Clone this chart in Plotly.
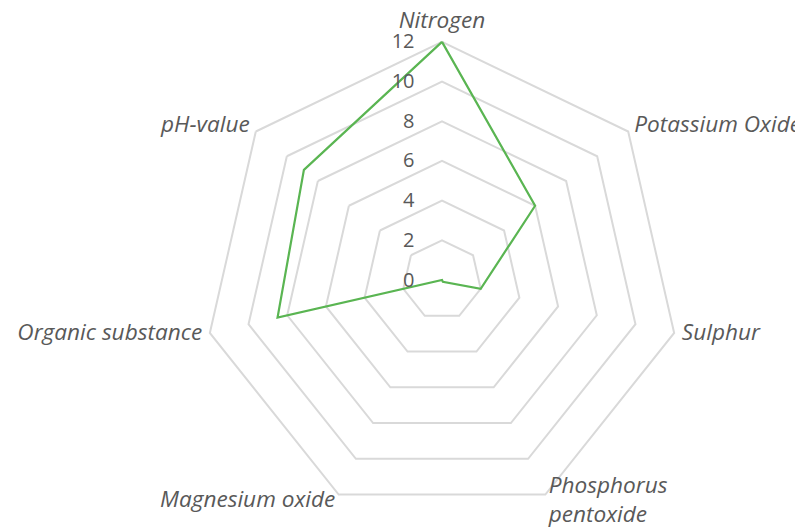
import plotly.graph_objects as go

categories = ["Nitrogen", "Potassium Oxide", "Sulphur", "Phosphorus<br>pentoxide",
              "Magnesium oxide", "Organic substance", "pH-value"]
values = [12, 6, 2, 0.1, 0, 8.5, 8.9]
tick_vals = [0, 2, 4, 6, 8, 10, 12]
tick_text = ["0", "2", "4", "6", "8", "10", "12"]

R_MAX = 12
LABEL_R = R_MAX * 1.033  # category labels sit just outside the outer ring
label_pos = ["top center", "middle right", "middle right", "middle right",
             "middle left", "middle left", "middle left"]

fig = go.Figure()
fig.add_trace(go.Scatterpolar(
    r=values + values[:1],
    theta=categories + categories[:1],
    mode="lines",
    line=dict(color="#5ab552", width=2.2),
    showlegend=False,
    hoverinfo="skip",
))
fig.add_trace(go.Scatterpolar(
    r=[LABEL_R] * len(categories),
    theta=categories,
    mode="text",
    text=categories,
    textposition=label_pos,
    textfont=dict(family="Open Sans", size=22.6, color="#595959", style="italic"),
    cliponaxis=False,
    showlegend=False,
    hoverinfo="skip",
))

grid = "#d9d9d9"
fig.update_layout(
    width=803, height=532,
    margin=dict(l=188, r=123, t=26, b=14),
    paper_bgcolor="white",
    plot_bgcolor="white",
    font=dict(family="Open Sans", color="#595959"),
    polar=dict(
        bgcolor="white",
        gridshape="linear",
        domain=dict(x=[0, 1], y=[0, 1]),
        radialaxis=dict(
            range=[0, LABEL_R],
            tickvals=tick_vals,
            ticktext=tick_text,
            angle=90,
            tickangle=90,
            side="counterclockwise",
            showline=False,
            ticks="outside",
            ticklen=20,
            tickcolor="rgba(0,0,0,0)",
            gridcolor=grid,
            gridwidth=1.5,
            tickfont=dict(family="Open Sans", size=20, color="#595959"),
        ),
        angularaxis=dict(
            rotation=90,
            direction="clockwise",
            showgrid=False,
            showline=False,
            ticks="",
            showticklabels=False,
        ),
    ),
)

fig.write_html("out.html")
